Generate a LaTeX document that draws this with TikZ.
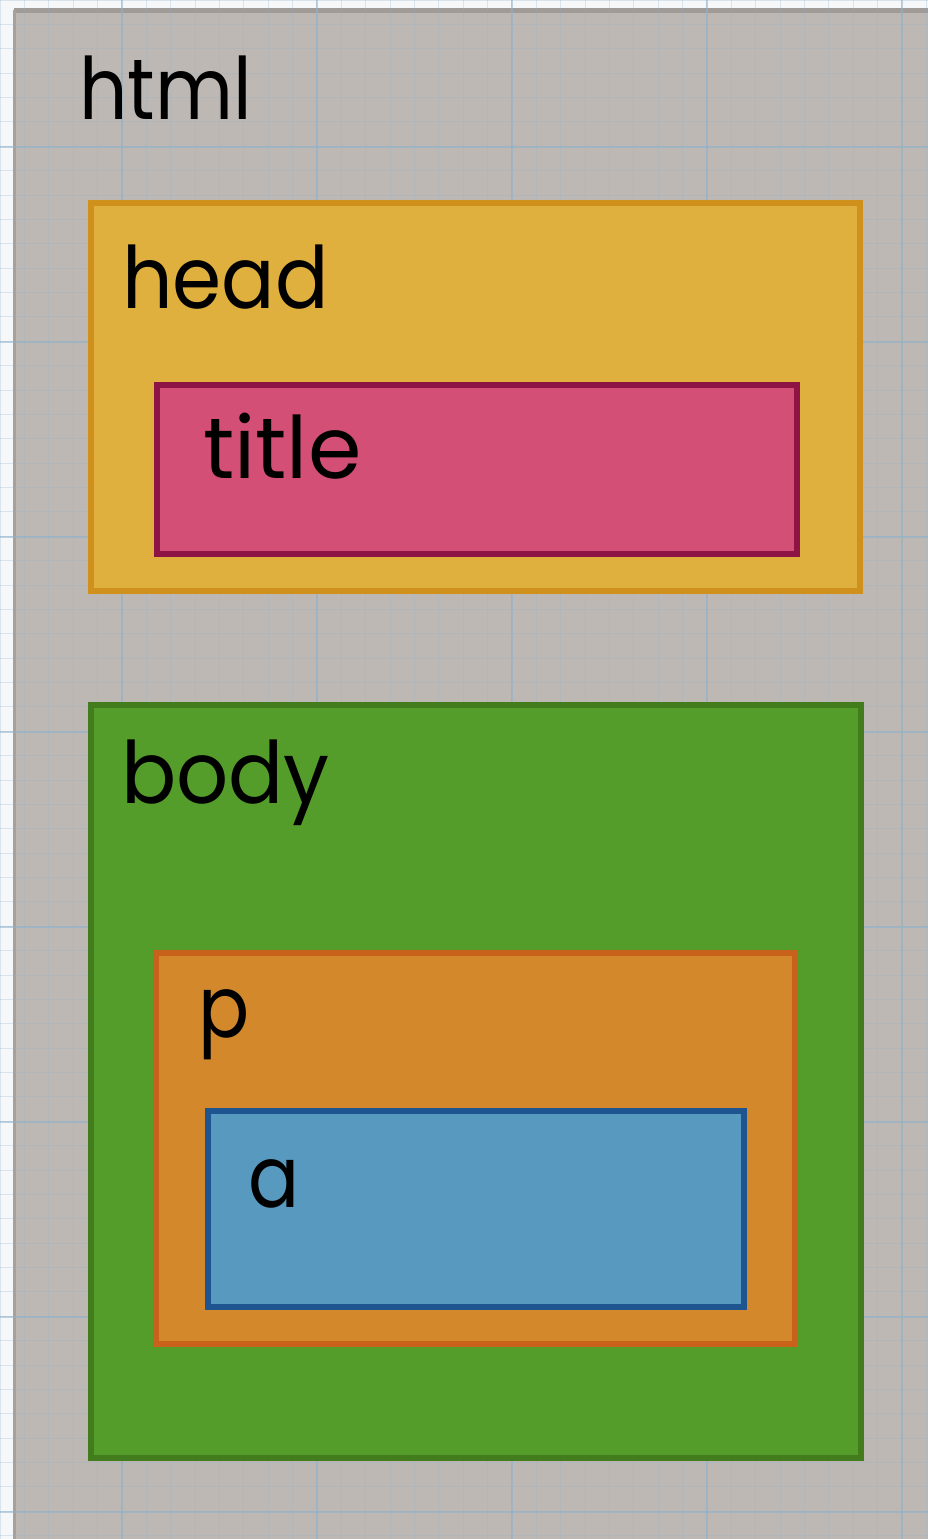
\documentclass[tikz,border=0pt]{standalone}
\usepackage{fontspec}
\setmainfont{Poppins}
\definecolor{paper}{HTML}{F5F7F9}
\definecolor{gridc}{HTML}{8FB2CE}
\definecolor{panel}{HTML}{BDB8B3}
\definecolor{paneledge}{HTML}{A09B97}
\definecolor{headfill}{HTML}{E0B03E}
\definecolor{headline}{HTML}{D0901C}
\definecolor{titlefill}{HTML}{D44F75}
\definecolor{titleline}{HTML}{8E1446}
\definecolor{bodyfill}{HTML}{559D2A}
\definecolor{bodyline}{HTML}{437C1D}
\definecolor{pfill}{HTML}{D3892B}
\definecolor{pline}{HTML}{C8611A}
\definecolor{afill}{HTML}{5899BF}
\definecolor{aline}{HTML}{1E5590}
\newcommand{\narrowlabel}[2][0.88]{\scalebox{#1}[1]{#2}}
\tikzset{
  box/.style={draw, line width=6pt, rectangle, inner sep=0pt, outer sep=0pt, anchor=north west},
  lbl/.style={anchor=base west, inner sep=0pt, font=\fontsize{86}{90}\selectfont, text=black},
  minorgrid/.style={draw=gridc, line width=0.8pt, opacity=0.28},
  majorgrid/.style={draw=gridc, line width=1.4pt, opacity=0.55},
}
\begin{document}
\begin{tikzpicture}[x=1pt,y=-1pt]
\useasboundingbox (0,0) rectangle (928,1539);
% paper background
\fill[paper] (0,0) rectangle (928,1539);
% html panel
\fill[panel] (14,10) rectangle (940,1550);
\fill[paneledge] (14,8) rectangle (940,13);
\fill[paneledge!80!panel] (13,10) rectangle (16,1550);
% grid
\foreach \i in {0,...,38} { \draw[minorgrid] (24.375*\i,0) -- (24.375*\i,1539); }
\foreach \j in {0,...,63} { \draw[minorgrid] (0,24.375*\j) -- (928,24.375*\j); }
\foreach \k in {0,...,4} { \draw[majorgrid] (122+195*\k,0) -- (122+195*\k,1539); }
\foreach \k in {0,...,7} { \draw[majorgrid] (0,147+195*\k) -- (928,147+195*\k); }
\node[lbl] (htmllbl) at (79,119) {\narrowlabel{html}};
% head
\node[box, draw=headline, fill=headfill, minimum width=769pt, minimum height=388pt] (head) at (91,203) {};
\node[lbl] (headlbl) at (122,308) {\narrowlabel[0.92]{head}};
\node[box, draw=titleline, fill=titlefill, minimum width=640pt, minimum height=169pt] (title) at (157,385) {};
\node[lbl] (titlelbl) at (203,478) {\narrowlabel[1.0]{title}};
% body
\node[box, draw=bodyline, fill=bodyfill, minimum width=770pt, minimum height=753pt] (body) at (91,705) {};
\node[lbl] (bodylbl) at (121,803) {\narrowlabel[0.95]{body}};
\node[box, draw=pline, fill=pfill, minimum width=639pt, minimum height=391pt] (p) at (156,953) {};
\node[lbl] (plbl) at (198,1037) {\narrowlabel{p}};
\node[box, draw=aline, fill=afill, minimum width=536pt, minimum height=196pt] (a) at (208,1111) {};
\node[lbl] (albl) at (248,1207) {\narrowlabel{a}};
\end{tikzpicture}
\end{document}
